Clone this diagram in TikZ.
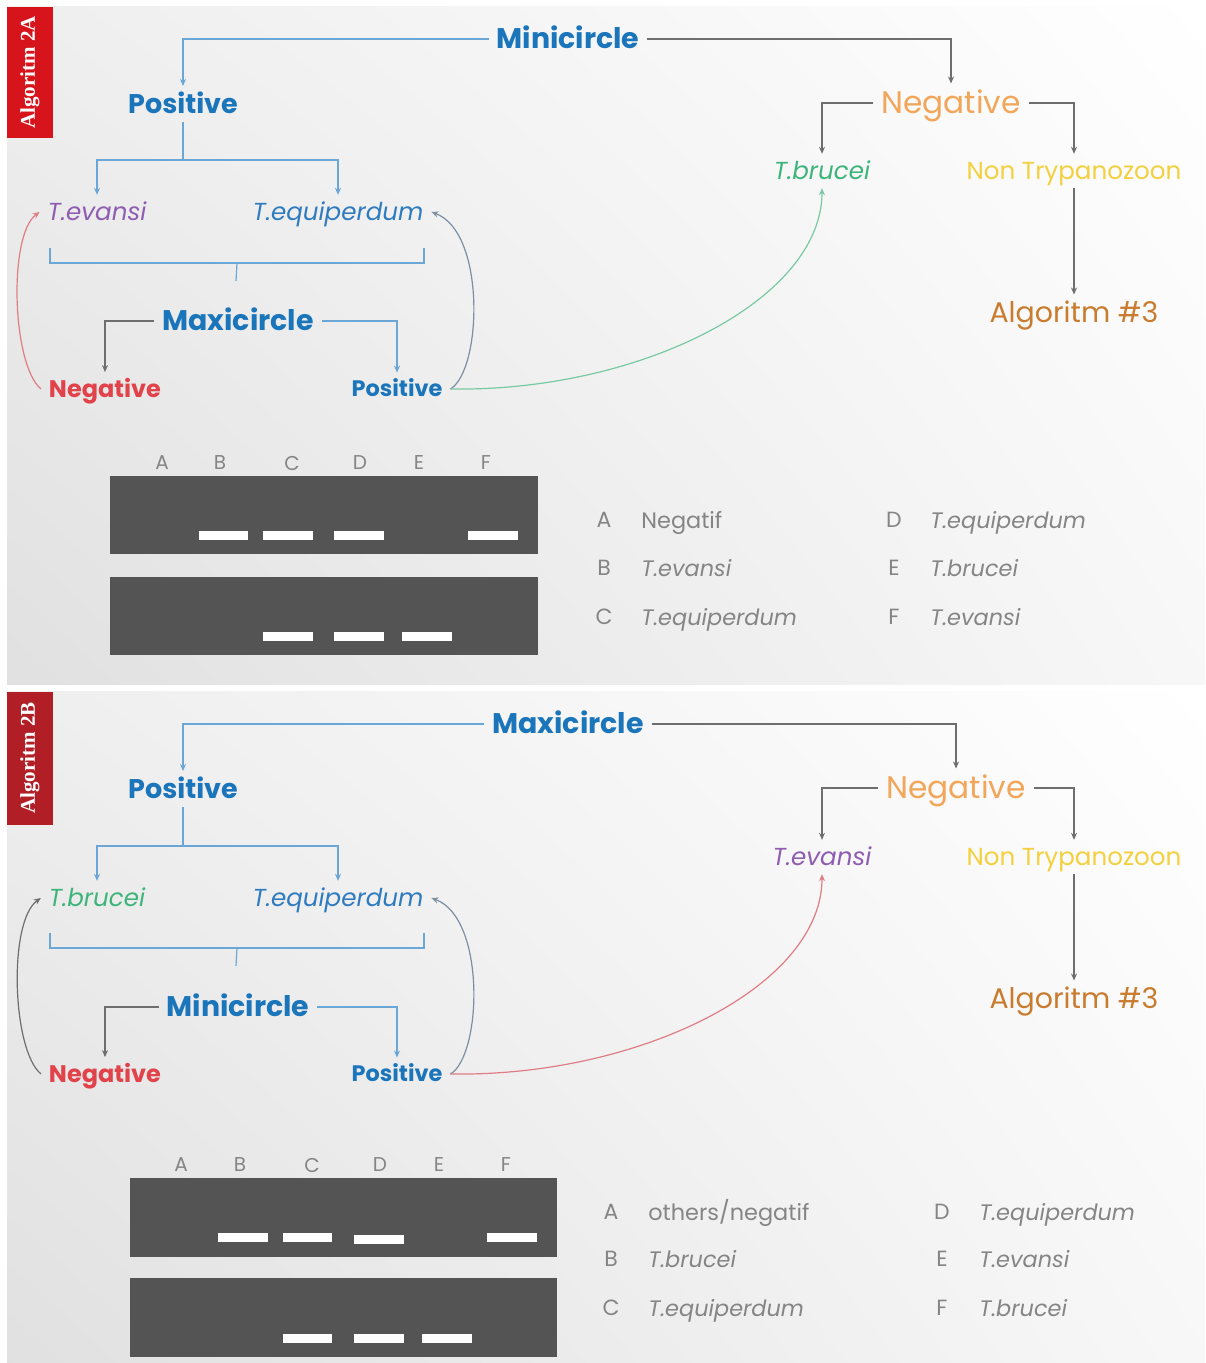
\documentclass[tikz,border=0pt]{standalone}
\usepackage{fontspec}
\setmainfont{Poppins}
\newfontfamily\tabfont{Liberation Serif}
\usetikzlibrary{arrows.meta,calc,shadings}
\definecolor{cblue}{HTML}{1B75BB}
\definecolor{cblue2}{HTML}{2E7BC0}
\definecolor{lblue}{HTML}{6AA6D6}
\definecolor{lgray}{HTML}{6E6E6E}
\definecolor{cgrayblue}{HTML}{7D8FA3}
\definecolor{cpurple}{HTML}{8E5CB0}
\definecolor{cgreen}{HTML}{3DB57A}
\definecolor{lgreen}{HTML}{78C9A4}
\definecolor{cred}{HTML}{E2434B}
\definecolor{lred}{HTML}{E07C84}
\definecolor{corange}{HTML}{F2A65A}
\definecolor{cyellow}{HTML}{F4D03F}
\definecolor{cbrown}{HTML}{C97B2E}
\definecolor{gel}{HTML}{545454}
\definecolor{leg}{HTML}{858585}
\definecolor{tabA}{HTML}{D7141B}
\definecolor{tabB}{HTML}{B21E25}
\newcommand\myfs[1]{\fontsize{#1}{#1}\selectfont}
\begin{document}
\begin{tikzpicture}[x=0.5pt,y=-0.5pt,
  >={Stealth[length=3.5pt,width=3pt]},
  lab/.style={inner sep=0pt, outer sep=4pt},
  bigb/.style={lab, font=\bfseries\myfs{14.2}, text=cblue, text height=10.2pt, text depth=0.3pt},
  posb/.style={lab, font=\bfseries\myfs{13.5}, text=cblue, text height=9.7pt, text depth=0.3pt},
  negb/.style={lab, font=\bfseries\myfs{12}, text height=8.6pt, text depth=0.3pt},
  smpb/.style={lab, font=\bfseries\myfs{11.2}, text height=8.1pt, text depth=0.3pt},
  ital/.style={lab, font=\itshape\myfs{12.3}, text height=8.9pt, text depth=0.3pt},
  orn/.style={lab, font=\myfs{15.6}, text=corange, text height=11.2pt, text depth=0.3pt},
  yel/.style={lab, font=\myfs{12.3}, text=cyellow, text height=8.9pt, text depth=0.3pt},
  brn/.style={lab, font=\myfs{14.2}, text=cbrown, text height=10.2pt, text depth=0.3pt},
  lane/.style={inner sep=0pt, font=\myfs{10}, text=leg},
  legl/.style={inner sep=0pt, font=\myfs{11}, text=leg, text height=7.8pt, text depth=0pt},
  legt/.style={inner sep=0pt, anchor=west, font=\myfs{11.2}, text=leg, text height=8pt, text depth=0pt},
  legi/.style={legt, font=\itshape\myfs{11.2}},
  bln/.style={draw=lblue, line width=0.6pt},
  gln/.style={draw=lgray, line width=0.6pt},
  crv/.style={line width=0.6pt},
  tabtxt/.style={rotate=90, text=white, inner sep=0pt, font=\tabfont\bfseries\myfs{10.5}}
]
\useasboundingbox (0,0) rectangle (1205,1363);
\fill[white] (0,0) rectangle (1205,1363);
\shade[upper left=gray!13, lower left=gray!24, upper right=white, lower right=gray!6] (7,7) rectangle (1205,684);
\shade[upper left=gray!13, lower left=gray!24, upper right=white, lower right=gray!6] (7,691) rectangle (1205,1363);

% ================= PANEL 1 =================
\fill[tabA] (7,7) rectangle (53,138);
\node[tabtxt] (tab1) at (30,72.5) {Algoritm 2A};

\node[bigb] (mini1) at (568,39) {Minicircle};
\node[posb] (pos1) at (183,104) {Positive};
\node[ital, text=cpurple] (ev1) at (97,212) {T.evansi};
\node[ital, text=cblue2] (eq1) at (338,212) {T.equiperdum};
\node[bigb] (maxi1) at (238,321) {Maxicircle};
\node[negb, text=cred] (neg1) at (105,389) {Negative};
\node[smpb, text=cblue] (pp1) at (397,389) {Positive};
\node[orn] (ng1) at (951,103) {Negative};
\node[ital, text=cgreen] (br1) at (822,171) {T.brucei};
\node[yel] (nt1) at (1074,171) {Non Trypanozoon};
\node[brn] (al1) at (1074,313) {Algoritm \#3};

\coordinate (j1) at (183,160);
\draw[bln,->] (mini1.west) -| (pos1.north);
\draw[gln,->] (mini1.east) -| (ng1.north);
\draw[bln] (pos1.south) -- (j1);
\draw[bln,->] (j1) -| (ev1.north);
\draw[bln,->] (j1) -| (eq1.north);
\draw[bln] (50,248) -- (50,263) -- (424,263) -- (424,248);
\draw[bln] (237,263) -- (236,281);
\draw[gln,->] (maxi1.west) -| (neg1.north);
\draw[bln,->] (maxi1.east) -| (pp1.north);
\draw[crv, draw=lred, ->] (neg1.west) .. controls (12,365) and (8,235) .. (ev1.west);
\draw[crv, draw=cgrayblue, ->] (pp1.east) .. controls (482,370) and (486,232) .. (eq1.east);
\draw[crv, draw=lgreen, ->] (pp1.east) .. controls (640,392) and (822,300) .. (br1.south);
\draw[gln,->] (ng1.west) -| (br1.north);
\draw[gln,->] (ng1.east) -| (nt1.north);
\draw[gln,->] (nt1.south) -- (al1.north);

% gel 1
\fill[gel] (110,476) rectangle (538,554);
\fill[gel] (110,577) rectangle (538,655);
\foreach \a/\b in {199/248,263/313,334/384,468/518} \fill[white] (\a,531) rectangle (\b,540);
\foreach \a/\b in {263/313,334/384,402/452} \fill[white] (\a,632) rectangle (\b,641);
\foreach \l/\x in {A/162,B/220,C/292,D/360,E/419,F/486} \node[lane] (ga\l) at (\x,463) {\l};

% legend 1
\foreach \l/\y in {A/520,B/568,C/617} \node[legl] (la\l) at (604,\y) {\l};
\foreach \l/\y in {D/520,E/568,F/617} \node[legl] (la\l) at (894,\y) {\l};
\node[legt] (ta1) at (641,520) {Negatif};
\node[legi] (tb1) at (641,568) {T.evansi};
\node[legi] (tc1) at (641,617) {T.equiperdum};
\node[legi] (td1) at (930,520) {T.equiperdum};
\node[legi] (te1) at (930,568) {T.brucei};
\node[legi] (tf1) at (930,617) {T.evansi};

% ================= PANEL 2 =================
\fill[tabB] (7,692) rectangle (53,825);
\node[tabtxt] (tab2) at (30,758) {Algoritm 2B};

\node[bigb] (maxi2) at (568,724) {Maxicircle};
\node[posb] (pos2) at (183,789) {Positive};
\node[ital, text=cgreen] (br2) at (97,898) {T.brucei};
\node[ital, text=cblue2] (eq2) at (338,898) {T.equiperdum};
\node[bigb] (mini2) at (238,1007) {Minicircle};
\node[negb, text=cred] (neg2) at (105,1074) {Negative};
\node[smpb, text=cblue] (pp2) at (397,1074) {Positive};
\node[orn] (ng2) at (956,788) {Negative};
\node[ital, text=cpurple] (ev2) at (822,857) {T.evansi};
\node[yel] (nt2) at (1074,857) {Non Trypanozoon};
\node[brn] (al2) at (1074,999) {Algoritm \#3};

\coordinate (j2) at (183,846);
\draw[bln,->] (maxi2.west) -| (pos2.north);
\draw[gln,->] (maxi2.east) -| (ng2.north);
\draw[bln] (pos2.south) -- (j2);
\draw[bln,->] (j2) -| (br2.north);
\draw[bln,->] (j2) -| (eq2.north);
\draw[bln] (50,933) -- (50,948) -- (424,948) -- (424,933);
\draw[bln] (237,948) -- (236,966);
\draw[gln,->] (mini2.west) -| (neg2.north);
\draw[bln,->] (mini2.east) -| (pp2.north);
\draw[crv, draw=lgray, ->] (neg2.west) .. controls (12,1050) and (8,921) .. (br2.west);
\draw[crv, draw=cgrayblue, ->] (pp2.east) .. controls (482,1055) and (486,918) .. (eq2.east);
\draw[crv, draw=lred, ->] (pp2.east) .. controls (640,1077) and (822,986) .. (ev2.south);
\draw[gln,->] (ng2.west) -| (ev2.north);
\draw[gln,->] (ng2.east) -| (nt2.north);
\draw[gln,->] (nt2.south) -- (al2.north);

% gel 2
\fill[gel] (130,1178) rectangle (557,1257);
\fill[gel] (130,1278) rectangle (557,1357);
\foreach \a/\b in {218/268,283/332,487/537} \fill[white] (\a,1233) rectangle (\b,1242);
\fill[white] (354,1235) rectangle (404,1244);
\foreach \a/\b in {283/332,354/404,422/472} \fill[white] (\a,1334) rectangle (\b,1343);
\foreach \l/\x in {A/181,B/240,C/312,D/380,E/439,F/506} \node[lane] (gb\l) at (\x,1165) {\l};

% legend 2
\foreach \l/\y in {A/1212,B/1259,C/1308} \node[legl] (lb\l) at (611,\y) {\l};
\foreach \l/\y in {D/1212,E/1259,F/1308} \node[legl] (lb\l) at (942,\y) {\l};
\node[legt] (ta2) at (648,1212) {others/negatif};
\node[legi] (tb2) at (648,1259) {T.brucei};
\node[legi] (tc2) at (648,1308) {T.equiperdum};
\node[legi] (td2) at (979,1212) {T.equiperdum};
\node[legi] (te2) at (979,1259) {T.evansi};
\node[legi] (tf2) at (979,1308) {T.brucei};
\end{tikzpicture}
\end{document}
